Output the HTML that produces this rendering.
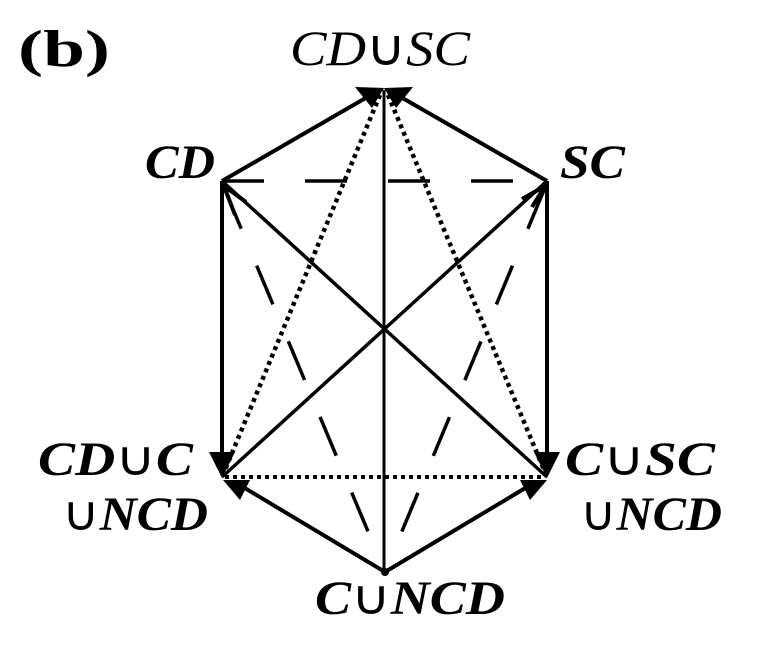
<!DOCTYPE html>
<html><head><style>html,body{margin:0;padding:0;background:#fff}svg{display:block}text{font-family:"Liberation Serif","Times New Roman",serif}.u{font-style:normal;font-weight:normal}</style></head>
<body>
<svg width="767" height="651" viewBox="0 0 767 651" xmlns="http://www.w3.org/2000/svg">
<g stroke="#000" fill="none" stroke-width="4">
<line x1="222" y1="181" x2="376" y2="92"/>
<line x1="547" y1="181" x2="392" y2="92"/>
<line x1="222" y1="181" x2="222" y2="460"/>
<line x1="547" y1="181" x2="547" y2="460"/>
<line x1="385" y1="572" x2="238" y2="484"/>
<line x1="385" y1="572" x2="532" y2="484"/>
<line x1="222" y1="181" x2="547" y2="477" stroke-width="3.5"/>
<line x1="547" y1="181" x2="222" y2="477" stroke-width="3.5"/>
<line x1="384" y1="90" x2="384" y2="572" stroke-width="3"/>
<line x1="222" y1="181" x2="547" y2="181" stroke-dasharray="42,41" stroke-width="3.5"/>
<line x1="225" y1="190" x2="385" y2="572" stroke-dasharray="42,40" stroke-width="3.5"/>
<line x1="544" y1="190" x2="385" y2="572" stroke-dasharray="42,40" stroke-width="3.5"/>
<line x1="380" y1="95" x2="225" y2="470" stroke-dasharray="4,4" stroke-width="4.5"/>
<line x1="388" y1="95" x2="544" y2="470" stroke-dasharray="4,4" stroke-width="4.5"/>
<line x1="225" y1="477" x2="545" y2="477" stroke-dasharray="4,4" stroke-width="4"/>
<polyline points="235,215 224,186 246,202" stroke-width="4"/>
<polyline points="532,207 545,186 522,199" stroke-width="4"/>
</g>
<g fill="#000">
<polygon points="355,87 384,88 372,108"/>
<polygon points="413,87 384,88 396,108"/>
<polygon points="209,452 235,452 222,478"/>
<polygon points="534,452 560,452 547,478"/>
<polygon points="223,480 250,480 240,500"/>
<polygon points="547,480 520,480 530,500"/>
<circle cx="385" cy="572" r="4"/>
</g>
<g fill="#000">
<text x="18" y="66" font-size="52" font-weight="bold" textLength="92" lengthAdjust="spacingAndGlyphs">(b)</text>
<text x="290" y="65" font-size="50" font-style="italic" textLength="180" lengthAdjust="spacingAndGlyphs">CD<tspan class="u">∪</tspan>SC</text>
<g font-style="italic" font-weight="bold" font-size="48">
<text x="145" y="178" textLength="70" lengthAdjust="spacingAndGlyphs">CD</text>
<text x="560" y="178" textLength="65" lengthAdjust="spacingAndGlyphs">SC</text>
<text x="38" y="475" textLength="155" lengthAdjust="spacingAndGlyphs">CD<tspan class="u">∪</tspan>C</text>
<text x="62" y="530" textLength="146" lengthAdjust="spacingAndGlyphs"><tspan class="u">∪</tspan>NCD</text>
<text x="565" y="475" textLength="150" lengthAdjust="spacingAndGlyphs">C<tspan class="u">∪</tspan>SC</text>
<text x="580" y="530" textLength="142" lengthAdjust="spacingAndGlyphs"><tspan class="u">∪</tspan>NCD</text>
<text x="315" y="614" textLength="190" lengthAdjust="spacingAndGlyphs">C<tspan class="u">∪</tspan>NCD</text>
</g>
</g>
</svg>
</body></html>
